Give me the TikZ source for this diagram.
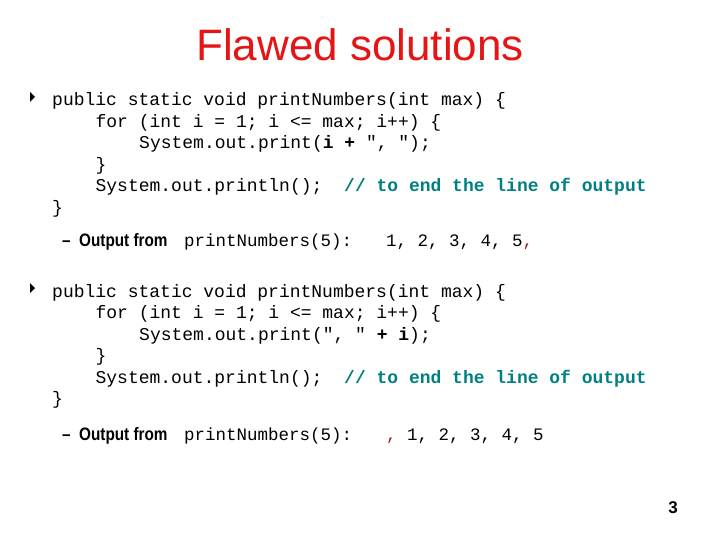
\documentclass[tikz,border=0pt]{standalone}
\usepackage{fontspec}
\setmainfont{Liberation Sans}
\setmonofont{Liberation Mono}
\definecolor{titlered}{RGB}{230,20,20}
\definecolor{cmt}{RGB}{0,128,128}
\definecolor{outred}{RGB}{160,30,30}
\begin{document}
\begin{tikzpicture}[x=1pt,y=-1pt,
  code/.style={anchor=base west,inner sep=0,font=\fontsize{18}{18}\ttfamily},
  txt/.style={anchor=base west,inner sep=0,font=\fontsize{18}{18}\selectfont},
  bul/.style={fill=black}]
\useasboundingbox (0,0) rectangle (720,540);
\node[anchor=base,inner sep=0,text=titlered,font=\fontsize{44}{44}\selectfont] (title) at (360,61) {Flawed solutions};
% block 1
\fill[bul] (30,92) -- (35,97) -- (30,102) -- cycle;
\node[code] (a1) at (52,106) {public static void printNumbers(int max) \{};
\node[code] (a2) at (95.4,127.5) {for (int i = 1; i <= max; i++) \{};
\node[code] (a3) at (139,149) {System.out.print(\textbf{i + }", ");};
\node[code] (a4) at (95.4,170.5) {\}};
\node[code] (a5) at (95.4,192) {System.out.println();};
\node[code,text=cmt] (a6) at (344,192) {\textbf{// to end the line of output}};
\node[code] (a7) at (52,213.5) {\}};
\node[txt,xscale=0.85] (o1) at (62,247) {\textbf{--\ \ Output from}};
\node[code,font=\fontsize{17.5}{18}\ttfamily] (o1c) at (184,247) {printNumbers(5):};
\node[code,font=\fontsize{17.5}{18}\ttfamily] (o1v) at (386,247) {1, 2, 3, 4, 5\textcolor{outred}{,}};
% block 2
\fill[bul] (30,283) -- (35,288) -- (30,293) -- cycle;
\node[code] (b1) at (52,297) {public static void printNumbers(int max) \{};
\node[code] (b2) at (95.4,318.5) {for (int i = 1; i <= max; i++) \{};
\node[code] (b3) at (139,340) {System.out.print(", "\textbf{ + i});};
\node[code] (b4) at (95.4,361.5) {\}};
\node[code] (b5) at (95.4,383) {System.out.println();};
\node[code,text=cmt] (b6) at (344,383) {\textbf{// to end the line of output}};
\node[code] (b7) at (52,404.5) {\}};
\node[txt,xscale=0.85] (o2) at (62,440) {\textbf{--\ \ Output from}};
\node[code,font=\fontsize{17.5}{18}\ttfamily] (o2c) at (184,440) {printNumbers(5):};
\node[code,font=\fontsize{17.5}{18}\ttfamily] (o2v) at (386,440) {\textcolor{outred}{,} 1, 2, 3, 4, 5};
\node[anchor=base east,inner sep=0,font=\fontsize{17}{17}\selectfont\bfseries] (pg) at (678,513) {3};
\end{tikzpicture}
\end{document}
